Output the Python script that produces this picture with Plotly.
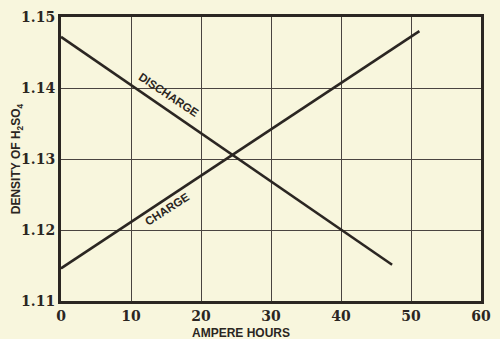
import plotly.graph_objects as go

# Ampere-hours vs. electrolyte density during charge and discharge
discharge_ah = [0, 47.3]
discharge_density = [1.1472, 1.1151]
charge_ah = [0, 51.2]
charge_density = [1.1146, 1.1480]

x_ticks = [0, 10, 20, 30, 40, 50, 60]
y_ticks = [1.11, 1.12, 1.13, 1.14, 1.15]
y_tick_text = ["1.11", "1.12", "1.13", "1.14", "1.15"]

paper = "#f8f6dd"
ink = "#2b2622"

fig = go.Figure()
fig.add_trace(go.Scatter(x=discharge_ah, y=discharge_density, mode="lines",
                         line=dict(color=ink, width=2.6), hoverinfo="skip"))
fig.add_trace(go.Scatter(x=charge_ah, y=charge_density, mode="lines",
                         line=dict(color=ink, width=2.6), hoverinfo="skip"))

label_font = dict(family="Liberation Sans, Arial, sans-serif", size=11.5, color=ink)
fig.add_annotation(x=15.4, y=1.1390, text="<b>DISCHARGE</b>", showarrow=False,
                   textangle=33.8, font=label_font)
fig.add_annotation(x=15.2, y=1.1230, text="<b>CHARGE</b>", showarrow=False,
                   textangle=-32.7, font=label_font)

# axis titles
fig.add_annotation(x=25.7, y=-0.113, xref="x", yref="paper", yanchor="middle",
                   text="<b>AMPERE HOURS</b>", showarrow=False,
                   font=dict(family="Liberation Sans, Arial, sans-serif", size=12, color=ink))
fig.add_annotation(x=-0.128, y=0.5, xref="paper", yref="paper",
                   text="<b>DENSITY OF H<sub>2</sub>SO<sub>4</sub></b>", showarrow=False,
                   textangle=-90,
                   font=dict(family="Liberation Sans, Arial, sans-serif", size=12, color=ink))

tick_font = dict(family="DejaVu Serif, Liberation Serif, serif", size=14, color=ink)
fig.update_xaxes(range=[0, 60], tickvals=x_ticks,
                 ticktext=["<b>%d</b>" % v for v in x_ticks],
                 showgrid=True, gridcolor="#4a4440", gridwidth=1,
                 showline=True, linecolor=ink, linewidth=3, mirror=True,
                 zeroline=False, ticks="", tickfont=tick_font, fixedrange=True)
fig.update_yaxes(range=[1.11, 1.15], tickvals=y_ticks,
                 ticktext=["<b>%s</b>" % t for t in y_tick_text],
                 showgrid=True, gridcolor="#4a4440", gridwidth=1,
                 showline=True, linecolor=ink, linewidth=3, mirror=True,
                 zeroline=False, ticks="", tickfont=tick_font, fixedrange=True)

fig.update_layout(width=500, height=339, showlegend=False,
                  margin=dict(l=61, r=9, t=17, b=38),
                  paper_bgcolor=paper, plot_bgcolor=paper,
                  font=dict(family="Liberation Serif, serif", color=ink))

fig.write_html("out.html", config={"displayModeBar": False})
